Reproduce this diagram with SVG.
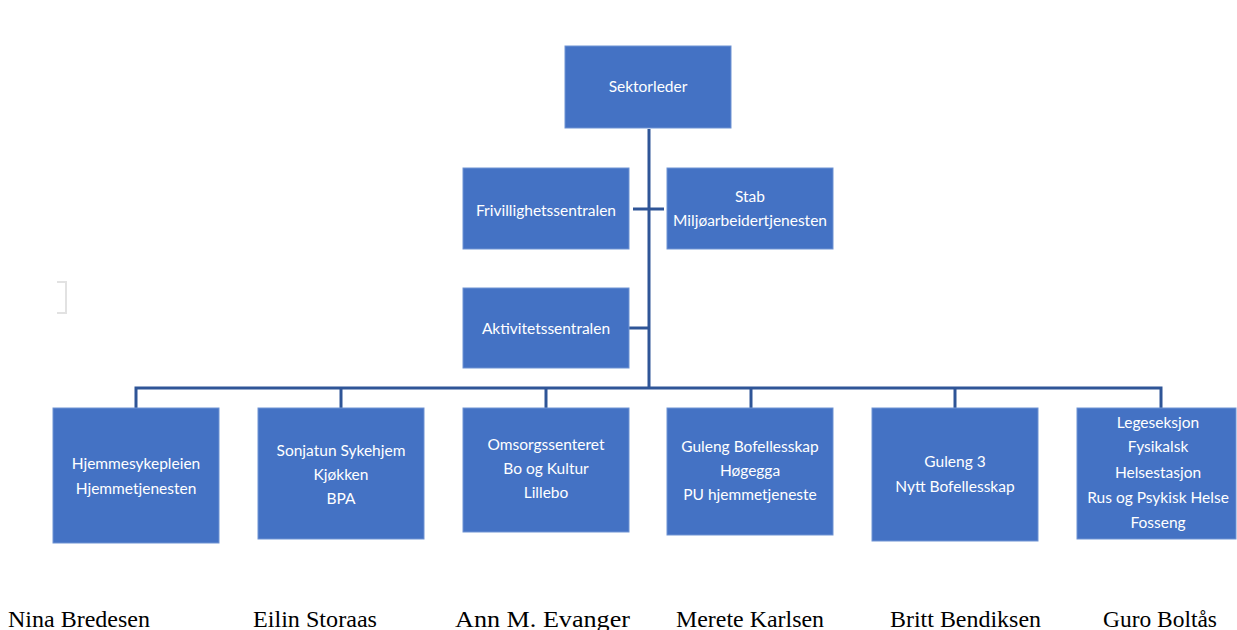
<svg xmlns="http://www.w3.org/2000/svg" width="1237" height="630" viewBox="0 0 1237 630">
<style>
.box{fill:#4472C4;stroke:#6f93d3;stroke-width:1}
.t{fill:#ffffff;font-family:Lato,"Open Sans","Liberation Sans",sans-serif;font-size:15.5px;text-anchor:middle}
.c{stroke:#2F5597;stroke-width:3;fill:none}
.n{fill:#000;font-family:"Liberation Serif","Times New Roman",serif;font-size:23px}
</style>
<rect width="1237" height="630" fill="#ffffff"/>
<path d="M57 282 H66 V313 H57" fill="none" stroke="#e2e2e2" stroke-width="2"/>
<g id="connectors">
<path class="c" d="M649 129 V388"/>
<path class="c" d="M633 209 H664"/>
<path class="c" d="M629 328 H649"/>
<path class="c" d="M136 408 V388 H1161 V408"/>
<path class="c" d="M341 388 V408"/>
<path class="c" d="M546 388 V408"/>
<path class="c" d="M751 388 V408"/>
<path class="c" d="M955 388 V408"/>
</g>
<g id="sektorleder"><rect class="box" x="565" y="46" width="166" height="82"/><text class="t" x="648" y="92">Sektorleder</text></g>
<g id="frivillighet"><rect class="box" x="463" y="168" width="166" height="81"/><text class="t" x="546" y="216">Frivillighetssentralen</text></g>
<g id="stab"><rect class="box" x="667" y="168" width="166" height="81"/><text class="t" x="750" y="202">Stab</text><text class="t" x="750" y="226">Miljøarbeidertjenesten</text></g>
<g id="aktivitet"><rect class="box" x="463" y="288" width="166" height="80"/><text class="t" x="546" y="334">Aktivitetssentralen</text></g>
<g id="hjemme"><rect class="box" x="53" y="408" width="166" height="135"/><text class="t" x="136" y="469">Hjemmesykepleien</text><text class="t" x="136" y="494">Hjemmetjenesten</text></g>
<g id="sonjatun"><rect class="box" x="258" y="408" width="166" height="131"/><text class="t" x="341" y="456">Sonjatun Sykehjem</text><text class="t" x="341" y="480">Kjøkken</text><text class="t" x="341" y="504">BPA</text></g>
<g id="omsorg"><rect class="box" x="463" y="408" width="166" height="124"/><text class="t" x="546" y="450">Omsorgssenteret</text><text class="t" x="546" y="474">Bo og Kultur</text><text class="t" x="546" y="498">Lillebo</text></g>
<g id="guleng"><rect class="box" x="667" y="408" width="166" height="127"/><text class="t" x="750" y="452">Guleng Bofellesskap</text><text class="t" x="750" y="476">Høgegga</text><text class="t" x="750" y="500">PU hjemmetjeneste</text></g>
<g id="guleng3"><rect class="box" x="872" y="408" width="166" height="133"/><text class="t" x="955" y="467">Guleng 3</text><text class="t" x="955" y="492">Nytt Bofellesskap</text></g>
<g id="lege"><rect class="box" x="1077" y="408" width="159" height="131"/><text class="t" x="1158" y="428">Legeseksjon</text><text class="t" x="1158" y="452">Fysikalsk</text><text class="t" x="1158" y="478">Helsestasjon</text><text class="t" x="1158" y="503">Rus og Psykisk Helse</text><text class="t" x="1158" y="528">Fosseng</text></g>
<g id="names">
<text class="n" x="8" y="627" textLength="142" lengthAdjust="spacingAndGlyphs">Nina Bredesen</text>
<text class="n" x="253" y="627" textLength="124" lengthAdjust="spacingAndGlyphs">Eilin Storaas</text>
<text class="n" x="455" y="627" textLength="175" lengthAdjust="spacingAndGlyphs">Ann M. Evanger</text>
<text class="n" x="676" y="627" textLength="148" lengthAdjust="spacingAndGlyphs">Merete Karlsen</text>
<text class="n" x="890" y="627" textLength="151" lengthAdjust="spacingAndGlyphs">Britt Bendiksen</text>
<text class="n" x="1103" y="627" textLength="114" lengthAdjust="spacingAndGlyphs">Guro Boltås</text>
</g>
</svg>
